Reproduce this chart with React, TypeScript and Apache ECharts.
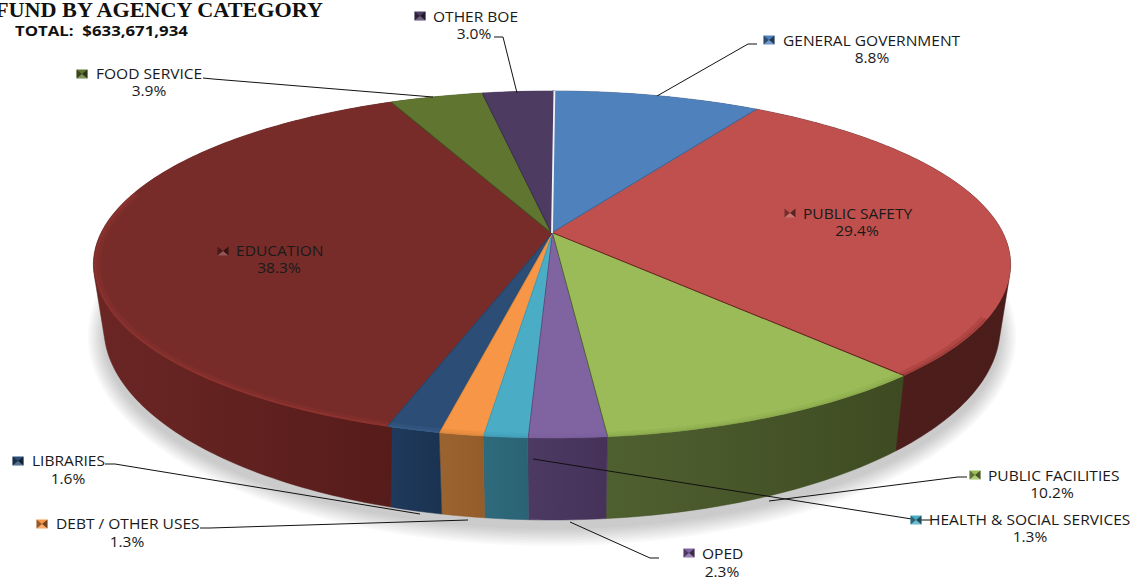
import React, { useEffect, useRef } from "react";
import * as echarts from "echarts";

// General-fund shares by agency category, percent of total, clockwise from twelve o'clock
const categories = [
  "GENERAL GOVERNMENT",
  "PUBLIC SAFETY",
  "PUBLIC FACILITIES",
  "OPED",
  "HEALTH & SOCIAL SERVICES",
  "DEBT / OTHER USES",
  "LIBRARIES",
  "EDUCATION",
  "FOOD SERVICE",
  "OTHER BOE",
];
const shares = [8.8, 29.4, 10.2, 2.3, 1.3, 1.3, 1.6, 38.3, 3.9, 3.0];

const titleText = "FUND BY AGENCY CATEGORY";
const totalText = "TOTAL:  $633,671,934";

const topColors = ["#4f81bd", "#c0504d", "#9bbb59", "#8064a2", "#4bacc6", "#f79646", "#2c4d75", "#772c2a", "#5f7530", "#4d3b62"];
const wallLeft = ["#3a5f8c", "#4f1f1d", "#4f6030", "#4c3a63", "#2e6b7c", "#9a6430", "#1f3a5c", "#6b2624", "#46581f", "#3a2c4a"];
const wallRight = ["#2f4f75", "#4a1c1a", "#3e4b22", "#463259", "#2a6375", "#945c2a", "#1b3352", "#561c1a", "#3c4b1b", "#33263f"];
const rimColors = ["#5f90c9", "#8f3533", "#87a64a", "#7a5f9c", "#3f9ab3", "#d9853c", "#3b5f8c", "#953633", "#6b8238", "#5a4672"];
const seamColors = ["#3a6594", "#5c1f1d", "#4d5f2a", "#5c4a78", "#3f99b0", "#e08a3c", "#26446a", "#3f4f1d", "#3a2e4c", "#f1f3f7"];

// Projection of the pie disc: apex, half-axes and the perspective factor
const CX = 552;
const APEX_Y = 233;
const HALF_X = 451;
const HALF_Y = 167.8;
const PERSPECTIVE = 0.1816;
// The underside of the disc relative to its top face
const BASE_SCALE_X = 0.977;
const BASE_SCALE_Y = 1.109;
const BASE_APEX_Y = 292.6;
// Front stretch of the disc where the bevel highlight shows
const BEVEL_FROM = (118 / 180) * Math.PI;
const BEVEL_TO = (284 / 180) * Math.PI;
// Soft ground shadow, built from widening translucent outlines
const SHADOW_LAYERS = [0, 1, 2, 3, 4, 5, 6, 7, 8];
const SHADOW_CENTRE_Y = 328;

const topPoint = (a: number): number[] => {
  const w = 1 + PERSPECTIVE * Math.cos(a);
  return [CX + (HALF_X * Math.sin(a)) / w, APEX_Y - (HALF_Y * Math.cos(a)) / w];
};
const basePoint = (a: number): number[] => {
  const [x, y] = topPoint(a);
  return [CX + BASE_SCALE_X * (x - CX), BASE_APEX_Y + BASE_SCALE_Y * (y - APEX_Y)];
};
const arc = (from: number, to: number, fn: (a: number) => number[]): number[][] => {
  const steps = Math.max(2, Math.ceil((to - from) / (Math.PI / 180)));
  const pts: number[][] = [];
  for (let i = 0; i <= steps; i++) pts.push(fn(from + ((to - from) * i) / steps));
  return pts;
};

// Monotone-chain hull, so a wall's outline runs tangent from the top rim to the base rim
const convexHull = (input: number[][]): number[][] => {
  const pts = [...input].sort((a, b) => a[0] - b[0] || a[1] - b[1]);
  const cross = (o: number[], a: number[], b: number[]) =>
    (a[0] - o[0]) * (b[1] - o[1]) - (a[1] - o[1]) * (b[0] - o[0]);
  const chain = (list: number[][]) => {
    const out: number[][] = [];
    for (const p of list) {
      while (out.length >= 2 && cross(out[out.length - 2], out[out.length - 1], p) <= 0) out.pop();
      out.push(p);
    }
    out.pop();
    return out;
  };
  return [...chain(pts), ...chain([...pts].reverse())];
};

// Running totals turn the shares into slice angles
const sliceRows = shares.map((value, i) => {
  const before = shares.slice(0, i).reduce((s, v) => s + v, 0);
  return [before, value, i];
});
const angleOf = (pct: number) => (pct / 100) * Math.PI * 2;

// Label placement: key position, name start, percent centre, leader polyline
const labelLayout = [
  { key: [769, 40], nameX: 783, nameY: 40, pctX: 872, pctY: 57, leader: [[657, 96], [748, 44], [757, 44]] },
  { key: [790, 213], nameX: 803, nameY: 213, pctX: 857, pctY: 230, leader: [] },
  { key: [975, 475], nameX: 988, nameY: 475, pctX: 1052, pctY: 492, leader: [[769, 501], [958, 477], [967, 477]] },
  { key: [689, 553], nameX: 702, nameY: 553, pctX: 722, pctY: 571, leader: [[570, 522], [650, 558], [659, 558]] },
  { key: [916, 520], nameX: 929, nameY: 519, pctX: 1030, pctY: 536, leader: [[533, 459], [918, 520], [932, 520]] },
  { key: [42, 524], nameX: 56, nameY: 523, pctX: 127, pctY: 541, leader: [[200, 528], [210, 528], [468, 520]] },
  { key: [18, 461], nameX: 32, nameY: 460, pctX: 68, pctY: 478, leader: [[105, 464], [115, 464], [420, 514]] },
  { key: [223, 251], nameX: 236, nameY: 250, pctX: 279, pctY: 267, leader: [] },
  { key: [82, 74], nameX: 96, nameY: 73, pctX: 149, pctY: 90, leader: [[203, 78], [213, 79], [433, 97]] },
  { key: [420, 16], nameX: 433, nameY: 16, pctX: 474, pctY: 33, leader: [[494, 37], [503, 37], [517, 93]] },
];

const LABEL_FONT = '"Open Sans", sans-serif';
const LABEL_STRETCH = 1.11;

const renderWall = (_: any, api: any) => {
  const before = api.value(0);
  const value = api.value(1);
  const i = api.value(2);
  const from = angleOf(before);
  const to = angleOf(before + value);
  const pts = convexHull([...arc(from, to, topPoint), ...arc(from, to, basePoint)]);
  return {
    type: "polygon",
    shape: { points: pts },
    style: {
      fill: new echarts.graphic.LinearGradient(0, 0, 1, 0, [
        { offset: 0, color: wallLeft[i] },
        { offset: 1, color: wallRight[i] },
      ]),
      stroke: wallRight[i],
      lineWidth: 0.5,
    },
  };
};

const renderTop = (_: any, api: any) => {
  const before = api.value(0);
  const value = api.value(1);
  const i = api.value(2);
  const from = angleOf(before);
  const to = angleOf(before + value);
  const rim = arc(from, to, topPoint);
  const children: any[] = [
    {
      type: "polygon",
      shape: { points: [[CX, APEX_Y], ...rim] },
      style: { fill: topColors[i] },
    },
  ];
  const bevelFrom = Math.max(from, BEVEL_FROM);
  const bevelTo = Math.min(to, BEVEL_TO);
  if (bevelTo > bevelFrom) {
    const inset = (k: number) =>
      arc(bevelFrom, bevelTo, topPoint).map(([x, y]) => [CX + (x - CX) * k, APEX_Y + (y - APEX_Y) * k]);
    children.push(
      {
        type: "polyline",
        shape: { points: inset(0.99) },
        style: { fill: "none", stroke: rimColors[i], lineWidth: 5, opacity: 0.3 },
      },
      {
        type: "polyline",
        shape: { points: inset(0.996) },
        style: { fill: "none", stroke: rimColors[i], lineWidth: 2, opacity: 0.55 },
      }
    );
  }
  children.push({
    type: "polyline",
    shape: { points: [[CX, APEX_Y], rim[rim.length - 1]] },
    style: { fill: "none", stroke: seamColors[i], lineWidth: 1.8 },
  });
  return { type: "group", children };
};

const labelText = (x: number, y: number, text: string, align: string) => ({
  type: "text",
  x,
  y,
  scaleX: LABEL_STRETCH,
  style: {
    x: 0,
    y: 0,
    text,
    fill: "#1a1a1a",
    font: `14px ${LABEL_FONT}`,
    align,
    verticalAlign: "middle",
  },
});

const renderLabel = (_: any, api: any) => {
  const value = api.value(1);
  const i = api.value(2);
  const l = labelLayout[i];
  const [kx, ky] = l.key;
  const children: any[] = [
    { type: "rect", shape: { x: kx - 5.5, y: ky - 4.5, width: 11, height: 9 }, style: { fill: topColors[i] } },
    {
      type: "polygon",
      shape: { points: [[kx - 5.5, ky - 4.5], [kx - 5.5, ky + 4.5], [kx, ky]] },
      style: { fill: "rgba(0,0,0,0.4)" },
    },
    {
      type: "polygon",
      shape: { points: [[kx + 5.5, ky - 4.5], [kx + 5.5, ky + 4.5], [kx, ky]] },
      style: { fill: "rgba(0,0,0,0.55)" },
    },
    {
      type: "polygon",
      shape: { points: [[kx - 5.5, ky + 4.5], [kx + 5.5, ky + 4.5], [kx, ky]] },
      style: { fill: "rgba(255,255,255,0.2)" },
    },
    labelText(l.nameX, l.nameY, categories[i], "left"),
    labelText(l.pctX, l.pctY, `${value.toFixed(1)}%`, "center"),
  ];
  if (l.leader.length) {
    children.unshift({
      type: "polyline",
      shape: { points: l.leader },
      style: { fill: "none", stroke: "#111111", lineWidth: 1 },
    });
  }
  return { type: "group", children };
};

export default function App() {
  const ref = useRef<HTMLDivElement>(null);
  useEffect(() => {
    if (!ref.current) return;
    const chart = echarts.init(ref.current, undefined, { renderer: "svg" });
    const silhouette = arc(0, Math.PI * 2, basePoint);
    const shadowRings = SHADOW_LAYERS.map((step) => {
      const spread = 8 - step;
      return {
        type: "polygon",
        z: 0,
        shape: {
          points: silhouette.map(([x, y]) => [
            CX + (x - CX) * (1 + spread * 0.0045),
            SHADOW_CENTRE_Y + (y - SHADOW_CENTRE_Y) * (1 + spread * 0.011) + 9,
          ]),
        },
        style: { fill: "rgba(0,0,0,0.022)" },
      };
    });
    chart.setOption({
      animation: false,
      backgroundColor: "#ffffff",
      graphic: [
        ...shadowRings,
        {
          type: "text",
          z: 10,
          x: 323,
          y: 10,
          scaleX: 1.11,
          style: {
            x: 0,
            y: 0,
            text: titleText,
            fill: "#111111",
            font: 'bold 20px "Liberation Serif", serif',
            align: "right",
            verticalAlign: "middle",
          },
        },
        {
          type: "text",
          z: 10,
          x: 15,
          y: 30,
          scaleX: 1.12,
          style: {
            x: 0,
            y: 0,
            text: totalText,
            fill: "#111111",
            font: `bold 15px ${LABEL_FONT}`,
            align: "left",
            verticalAlign: "middle",
          },
        },
      ],
      series: [
        { type: "custom", coordinateSystem: "none", z: 2, renderItem: renderWall, data: sliceRows, silent: true },
        { type: "custom", coordinateSystem: "none", z: 3, renderItem: renderTop, data: sliceRows, silent: true },
        { type: "custom", coordinateSystem: "none", z: 4, renderItem: renderLabel, data: sliceRows, silent: true },
      ],
    });
    return () => chart.dispose();
  }, []);
  return <div ref={ref} style={{ position: "fixed", left: 0, top: 0, width: 1146, height: 580 }} />;
}
